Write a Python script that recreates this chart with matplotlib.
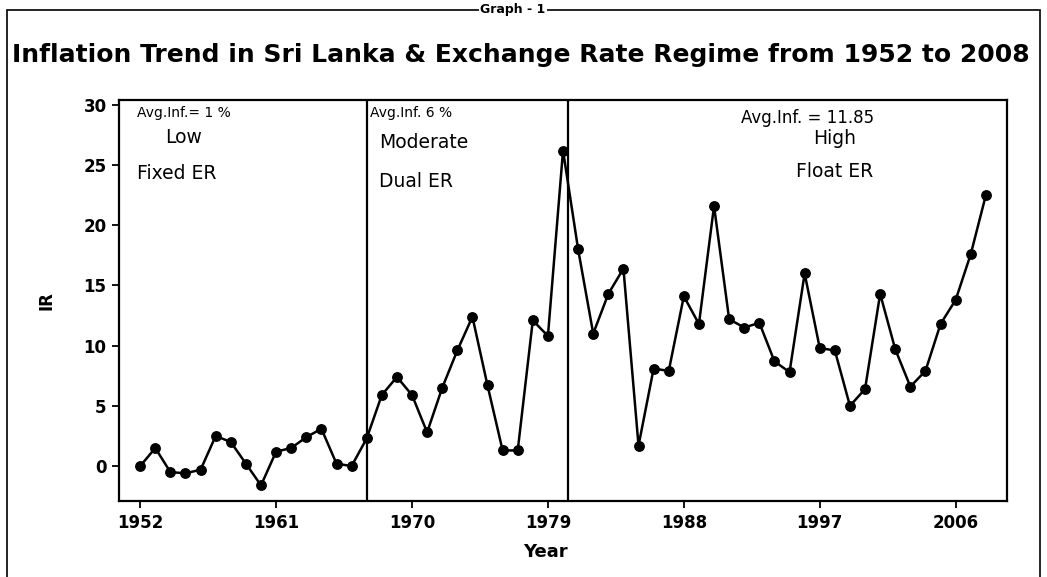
import matplotlib
matplotlib.use("Agg")
import matplotlib.pyplot as plt
from matplotlib.patches import Rectangle

# inflation rate (%), 1952-2008
years = list(range(1952, 2009))
inflation = [
    0.0, 1.5, -0.5, -0.6, -0.3, 2.5, 2.0, 0.2, -1.6, 1.2,
    1.5, 2.4, 3.1, 0.2, 0.0, 2.3, 5.9, 7.4, 5.9, 2.8,
    6.5, 9.6, 12.4, 6.7, 1.3, 1.3, 12.1, 10.8, 26.2, 18.0,
    11.0, 14.3, 16.4, 1.7, 8.1, 7.9, 14.1, 11.8, 21.6, 12.2,
    11.5, 11.9, 8.7, 7.8, 16.0, 9.8, 9.6, 5.0, 6.4, 14.3,
    9.7, 6.6, 7.9, 11.8, 13.8, 17.6, 22.5,
]

# regime boundaries (year positions of the vertical lines)
regime_breaks = [1967.0, 1980.35]

xticks = [1952, 1961, 1970, 1979, 1988, 1997, 2006]
yticks = [0, 5, 10, 15, 20, 25, 30]

fig = plt.figure(figsize=(10.47, 5.77), dpi=100)
ax = fig.add_axes([0.1137, 0.1317, 0.8481, 0.695])

ax.plot(years, inflation, color="black", linewidth=1.8,
        marker="o", markersize=6.8, zorder=3)

for x in regime_breaks:
    ax.axvline(x, color="black", linewidth=1.6, zorder=2)

ax.set_xlim(1950.6, 2009.4)
ax.set_ylim(-2.9, 30.4)
ax.set_xticks(xticks)
ax.set_yticks(yticks)
ax.tick_params(direction="out", length=5, width=1.3, labelsize=12, pad=4)
for lab in ax.get_xticklabels() + ax.get_yticklabels():
    lab.set_fontweight("bold")
for spine in ax.spines.values():
    spine.set_linewidth(1.6)

ax.set_xlabel("Year", fontsize=13, fontweight="bold", labelpad=6)
ax.set_ylabel("IR", fontsize=12, fontweight="bold", labelpad=20)
ax.xaxis.set_label_coords(0.48, -0.105)

# regime annotations
ann = dict(transform=ax.transData, color="black")
ax.text(1951.8, 29.3, "Avg.Inf.= 1 %", fontsize=10, ha="left", va="center", **ann)
ax.text(1954.9, 27.3, "Low", fontsize=13.5, ha="center", va="center", **ann)
ax.text(1951.8, 24.3, "Fixed ER", fontsize=13.5, ha="left", va="center", **ann)

ax.text(1967.2, 29.3, "Avg.Inf. 6 %", fontsize=10, ha="left", va="center", **ann)
ax.text(1967.8, 26.9, "Moderate", fontsize=13.5, ha="left", va="center", **ann)
ax.text(1967.8, 23.6, "Dual ER", fontsize=13.5, ha="left", va="center", **ann)

ax.text(1996.2, 28.9, "Avg.Inf. = 11.85", fontsize=12, ha="center", va="center", **ann)
ax.text(1998.0, 27.2, "High", fontsize=13.5, ha="center", va="center", **ann)
ax.text(1998.0, 24.5, "Float ER", fontsize=13.5, ha="center", va="center", **ann)

fig.text(0.497, 0.905, "Inflation Trend in Sri Lanka & Exchange Rate Regime from 1952 to 2008",
         fontsize=18, fontweight="bold", ha="center", va="center")

# outer frame of the scanned figure
fig.patches.append(Rectangle((0.007, -0.05), 0.986, 1.033, transform=fig.transFigure,
                             fill=False, edgecolor="black", linewidth=1.2))

# caption sitting on the top edge of the frame
fig.text(0.49, 0.983, "Graph - 1", fontsize=9, fontweight="bold", ha="center", va="center",
         bbox=dict(facecolor="white", edgecolor="none", pad=1))

fig.savefig("out.png", dpi=100)
